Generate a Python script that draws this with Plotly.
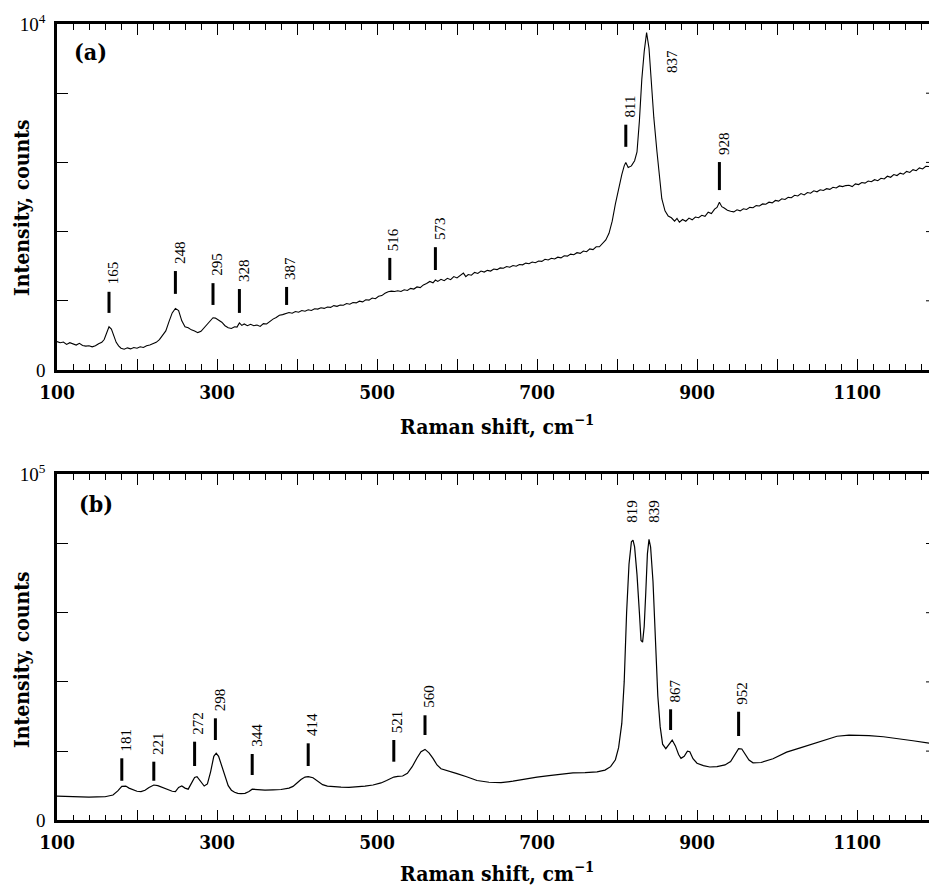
import plotly.graph_objects as go

# ---------------- data ----------------
# Panel (a)
a_shift = [100, 104, 108, 112, 116, 120, 124, 128, 132, 136,
           140, 144, 148, 152, 156, 159, 162, 165, 168, 171,
           174, 177, 180, 184, 188, 192, 196, 200, 204, 208,
           212, 216, 220, 224, 228, 232, 236, 240, 244, 248,
           252, 256, 260, 264, 268, 272, 276, 280, 284, 288,
           292, 295, 298, 302, 306, 310, 314, 318, 322, 325,
           328, 331, 334, 338, 342, 346, 350, 354, 358, 362,
           366, 370, 374, 378, 382, 386, 390, 394, 398, 402,
           406, 410, 414, 418, 422, 426, 430, 434, 438, 442,
           446, 450, 454, 458, 462, 466, 470, 474, 478, 482,
           486, 490, 494, 498, 502, 506, 510, 514, 518, 522,
           526, 530, 534, 538, 542, 546, 550, 554, 558, 562,
           566, 570, 573, 576, 580, 584, 588, 592, 596, 600,
           604, 608, 611, 614, 618, 622, 626, 630, 634, 638,
           642, 646, 650, 654, 658, 662, 666, 670, 674, 678,
           682, 686, 690, 694, 698, 702, 706, 710, 714, 718,
           722, 726, 730, 734, 738, 742, 746, 750, 754, 758,
           762, 766, 770, 774, 778, 782, 786, 790, 794, 798,
           802, 806, 809, 811, 814, 818, 822, 825, 828, 831,
           834, 837, 840, 843, 846, 850, 853, 856, 860, 864,
           868, 872, 875, 878, 882, 886, 890, 894, 898, 902,
           906, 910, 914, 918, 922, 925, 928, 931, 934, 938,
           942, 946, 950, 954, 958, 962, 966, 970, 974, 978,
           982, 986, 990, 994, 998, 1002, 1006, 1010, 1014, 1018,
           1022, 1026, 1030, 1034, 1038, 1042, 1046, 1050, 1054, 1058,
           1062, 1066, 1070, 1074, 1078, 1082, 1086, 1090, 1094, 1098,
           1102, 1106, 1110, 1114, 1118, 1122, 1126, 1130, 1134, 1138,
           1142, 1146, 1150, 1154, 1158, 1162, 1166, 1170, 1174, 1178,
           1182, 1186, 1190]
a_counts = [820, 790, 810, 740, 790, 760, 720, 770, 710, 690,
            700, 670, 700, 760, 800, 880, 1050, 1250, 1180, 980,
            800, 700, 630, 600, 640, 610, 650, 630, 670, 650,
            700, 720, 760, 800, 880, 990, 1130, 1400, 1650, 1780,
            1720, 1420, 1250, 1220, 1160, 1130, 1080, 1120, 1230, 1340,
            1430, 1510, 1500, 1450, 1380, 1280, 1220, 1200, 1250, 1240,
            1360, 1290, 1330, 1280, 1320, 1280, 1300, 1260, 1340, 1330,
            1410, 1470, 1520, 1580, 1600, 1640, 1660, 1640, 1690, 1670,
            1720, 1700, 1740, 1720, 1770, 1760, 1800, 1780, 1820, 1810,
            1860, 1840, 1880, 1870, 1920, 1900, 1950, 1940, 1990, 1970,
            2030, 2020, 2080, 2060, 2130, 2150, 2220, 2260, 2280, 2270,
            2290, 2270, 2320, 2300, 2360, 2340, 2400, 2380, 2460, 2500,
            2560, 2520, 2600, 2560, 2620, 2580, 2650, 2610, 2700, 2660,
            2720, 2800, 2700, 2760, 2740, 2820, 2790, 2860, 2830, 2880,
            2860, 2920, 2900, 2950, 2940, 2990, 2970, 3020, 3000, 3050,
            3040, 3090, 3070, 3120, 3100, 3150, 3140, 3200, 3180, 3230,
            3210, 3260, 3240, 3300, 3290, 3350, 3330, 3390, 3370, 3440,
            3420, 3500, 3480, 3560, 3560, 3660, 3760, 3950, 4300, 4800,
            5250, 5650, 5900, 6000, 5850, 5900, 6050, 6300, 7200, 8400,
            9200, 9750, 9300, 8300, 7300, 6300, 5500, 4950, 4600, 4450,
            4400, 4300, 4380, 4270, 4350, 4300, 4390, 4340, 4420, 4400,
            4470, 4440, 4560, 4520, 4650, 4700, 4850, 4720, 4680, 4620,
            4590, 4570, 4630, 4600, 4660, 4640, 4700, 4690, 4750, 4740,
            4800, 4790, 4850, 4830, 4900, 4880, 4950, 4930, 4990, 4980,
            5050, 5030, 5100, 5060, 5130, 5110, 5180, 5150, 5210, 5190,
            5240, 5220, 5280, 5260, 5320, 5300, 5330, 5340, 5300, 5380,
            5360, 5420, 5400, 5460, 5440, 5500, 5470, 5540, 5520, 5600,
            5570, 5650, 5620, 5690, 5660, 5740, 5710, 5790, 5760, 5840,
            5810, 5890, 5880]

a_peaks = [165, 248, 295, 328, 387, 516, 573, 811, 928]
a_bar_low = [1650, 2200, 1880, 1650, 1880, 2600, 2890, 6450, 5200]
a_bar_high = [2260, 2860, 2510, 2340, 2400, 3240, 3550, 7090, 6010]
a_free_peaks = [837]
a_free_level = [8530]

# Panel (b)
b_shift = [100, 110, 120, 130, 140, 150, 160, 170, 176, 181, 186, 190, 195, 200, 205, 210, 215, 221, 226, 232,
           238, 244, 248, 252, 256, 260, 264, 268, 272, 275, 279, 284, 288, 292, 296, 299, 302, 306, 310, 314,
           318, 322, 326, 330, 335, 340, 344, 348, 352, 360, 370, 380, 390, 395, 400, 405, 410, 414, 420, 426,
           432, 438, 445, 455, 465, 475, 485, 495, 505, 512, 517, 521, 526, 532, 538, 544, 550, 555, 560, 565,
           570, 575, 580, 590, 600, 612, 625, 640, 655, 670, 685, 700, 715, 730, 745, 760, 775, 785, 792, 798,
           802, 806, 809, 812, 815, 818, 820, 822, 825, 828, 830, 832, 834, 836, 838, 840, 842, 845, 848, 851,
           854, 857, 861, 865, 869, 873, 877, 880, 884, 888, 891, 895, 900, 908, 916, 925, 935, 942, 947, 952,
           956, 960, 965, 970, 980, 995, 1012, 1030, 1045, 1060, 1075, 1090, 1102, 1115, 1133, 1150, 1170, 1190]
b_counts = [7000, 6900, 6800, 6700, 6700, 6750, 6800, 7300, 8500, 9800, 9900, 9300, 8800, 8400, 8300, 8700, 9500, 10200, 10000, 9500,
            9000, 8400, 8300, 9500, 9900, 9300, 9000, 10800, 12400, 12600, 11500, 9900, 10500, 14000, 18500, 19400, 18500, 15500, 12500, 10000,
            8700, 8100, 7800, 7700, 7800, 8300, 9000, 8900, 8700, 8700, 8800, 8900, 9300, 9800, 10800, 11800, 12500, 12600, 12300, 11400,
            10300, 9900, 9700, 9600, 9500, 9600, 9900, 10200, 10800, 11500, 12100, 12500, 12700, 12800, 13600, 15500, 18000, 19800, 20500, 19500,
            17900, 16000, 14900, 14100, 13500, 12600, 11500, 11000, 10900, 11300, 12000, 12500, 12900, 13400, 13700, 13800, 14000, 14500, 15500, 17500,
            21000, 28000, 40000, 60000, 74000, 80500, 81000, 79000, 71000, 60000, 52000, 51500, 56000, 66000, 77000, 81200, 79000, 69000, 52000, 36000,
            27000, 22000, 20700, 22000, 23200, 21500, 19000, 17900, 18500, 20000, 19800, 17800, 16500, 15800, 15400, 15500, 16000, 17000, 19000, 20700,
            20600, 19200, 17400, 16600, 16700, 17800, 19700, 21000, 22100, 23300, 24300, 24600, 24650, 24500, 24150, 23700, 23000, 22300]

b_peaks = [181, 221, 272, 298, 344, 414, 521, 560, 867, 952]
b_bar_low = [11450, 11450, 15690, 23210, 13090, 15690, 16940, 24650, 26100, 24360]
b_bar_high = [17920, 16940, 22720, 29480, 19160, 22250, 23210, 30350, 32080, 31380]
b_free_peaks = [819, 839]
b_free_level = [85350, 85350]

x_range = [100, 1190]
x_major = list(range(100, 1200, 100))
x_labelled = [100, 300, 500, 700, 900, 1100]
a_yticks = [0, 2000, 4000, 6000, 8000, 10000]
b_yticks = [0, 20000, 40000, 60000, 80000, 100000]

# ---------------- geometry ----------------
W, H = 929, 888
LEFT = 57
A_TOP, A_BOT = 24, 370
B_TOP, B_BOT = 474.3, 820.3
SERIF = "Liberation Serif, Times New Roman, DejaVu Serif Condensed, DejaVu Serif, serif"
SERIF_BOLD = "DejaVu Serif Condensed, DejaVu Serif, serif"


def ydom(top, bot):
    return [1 - bot / H, 1 - top / H]


fig = go.Figure()
fig.add_trace(go.Scatter(x=a_shift, y=a_counts, mode="lines", line=dict(color="black", width=1.1),
                         xaxis="x", yaxis="y", showlegend=False, hoverinfo="skip"))
fig.add_trace(go.Scatter(x=b_shift, y=b_counts, mode="lines", line=dict(color="black", width=1.2),
                         xaxis="x2", yaxis="y2", showlegend=False, hoverinfo="skip"))


def xaxis_cfg(anchor):
    return dict(
        domain=[LEFT / W, 1], range=x_range, anchor=anchor,
        tickmode="array", tickvals=x_major,
        ticktext=[str(v) if v in x_labelled else "" for v in x_major],
        ticks="inside", ticklen=11, tickwidth=1.2, tickcolor="black",
        minor=dict(tick0=100, dtick=20, ticks="inside", ticklen=6, tickwidth=1, tickcolor="black", showgrid=False),
        showline=True, linewidth=2.5, linecolor="black", mirror="ticks",
        showgrid=False, zeroline=False, automargin=False,
        tickfont=dict(family=SERIF_BOLD, size=19, color="black", weight="bold"),
        ticklabelstandoff=3,
    )


def yaxis_cfg(anchor, dom, ticks, top_label):
    return dict(
        domain=dom, range=[ticks[0], ticks[-1]], anchor=anchor,
        tickmode="array", tickvals=ticks,
        ticktext=["0"] + [""] * (len(ticks) - 2) + [top_label],
        ticks="inside", ticklen=11, tickwidth=1.2, tickcolor="black",
        showline=True, linewidth=2.5, linecolor="black", mirror=False,
        showgrid=False, zeroline=False, automargin=False,
        tickfont=dict(family=SERIF, size=19, color="black"),
        ticklabelstandoff=5,
    )


fig.update_layout(
    width=W, height=H, margin=dict(l=0, r=0, t=0, b=0, pad=0, autoexpand=False),
    paper_bgcolor="white", plot_bgcolor="white",
    xaxis=xaxis_cfg("y"),
    yaxis=yaxis_cfg("x", ydom(A_TOP, A_BOT), a_yticks, "10<sup>4</sup>"),
    xaxis2=xaxis_cfg("y2"),
    yaxis2=yaxis_cfg("x2", ydom(B_TOP, B_BOT), b_yticks, "10<sup>5</sup>"),
)

shapes = []
annotations = []


def add_markers(xref, yref, peaks, lows, highs, free_peaks, free_levels, free_shifts):
    for p, lo, hi in zip(peaks, lows, highs):
        shapes.append(dict(type="line", xref=xref, yref=yref, x0=p, x1=p, y0=lo, y1=hi,
                           line=dict(color="black", width=3)))
        annotations.append(dict(xref=xref, yref=yref, x=p, y=hi, text=str(p), textangle=-90,
                                showarrow=False, xanchor="center", yanchor="bottom",
                                xshift=4, yshift=5, font=dict(family=SERIF, size=15, color="black")))
    for p, lv, sh in zip(free_peaks, free_levels, free_shifts):
        annotations.append(dict(xref=xref, yref=yref, x=p, y=lv, text=str(p), textangle=-90,
                                showarrow=False, xanchor="center", yanchor="bottom",
                                xshift=sh, yshift=0, font=dict(family=SERIF, size=15, color="black")))


add_markers("x", "y", a_peaks, a_bar_low, a_bar_high, a_free_peaks, a_free_level, [26])
add_markers("x2", "y2", b_peaks, b_bar_low, b_bar_high, b_free_peaks, b_free_level, [0, 6])

# short ticks on the (cropped) right side
for yref, ticks in (("y", a_yticks), ("y2", b_yticks)):
    for t in ticks[1:-1]:
        shapes.append(dict(type="line", xref="paper", yref=yref, x0=1 - 3 / W, x1=1, y0=t, y1=t,
                           line=dict(color="black", width=1)))

title_font = dict(family=SERIF_BOLD, size=21, color="black", weight="bold")
for yc in (425, 872):
    annotations.append(dict(xref="paper", yref="paper", x=497 / W, y=1 - yc / H,
                            text="Raman shift, cm<sup>−1</sup>", showarrow=False,
                            xanchor="center", yanchor="middle", font=title_font))
for yc in (208, 660):
    annotations.append(dict(xref="paper", yref="paper", x=21 / W, y=1 - yc / H,
                            text="Intensity, counts", textangle=-90, showarrow=False,
                            xanchor="center", yanchor="middle", font=title_font))
panel_font = dict(family=SERIF_BOLD, size=23, color="black", weight="bold")
for txt, xc, yc in (("(a)", 90, 52), ("(b)", 96, 503)):
    annotations.append(dict(xref="paper", yref="paper", x=xc / W, y=1 - yc / H,
                            text=txt, showarrow=False,
                            xanchor="center", yanchor="middle", font=panel_font))

fig.update_layout(shapes=shapes, annotations=annotations)
fig.write_html("out.html")
